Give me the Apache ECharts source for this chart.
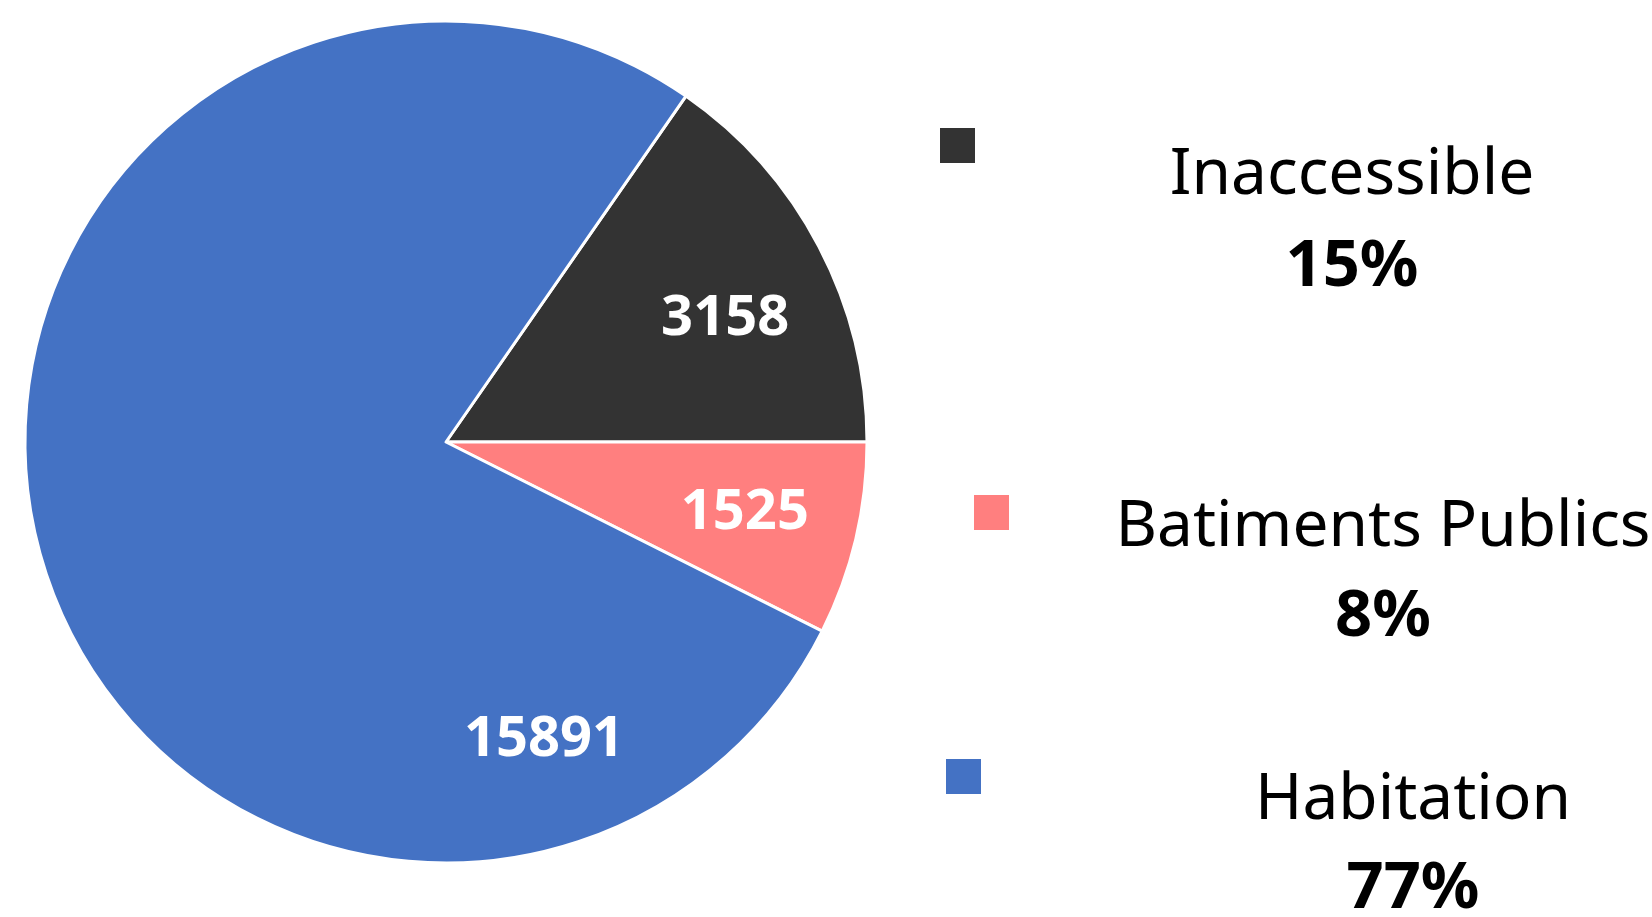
<!DOCTYPE html>
<html>
<head>
<meta charset="utf-8">
<script src="https://cdn.jsdelivr.net/npm/echarts@6/dist/echarts.min.js"></script>
<style>
  html, body { margin: 0; padding: 0; background: #ffffff; }
  #chart { width: 1652px; height: 917px; }
</style>
</head>
<body>
<div id="chart"></div>
<script>
// ---- data ----
const categories = ['Inaccessible', 'Batiments Publics', 'Habitation'];
const values = [3158, 1525, 15891];
const percentLabels = ['15%', '8%', '77%'];
const colors = ['#333333', '#FF7F7F', '#4472C4'];

// ---- layout (positions / styles only) ----
const CX = 446, CY = 442, R = 421;
// label placement (polar, relative to pie centre)
const labelPolar = [
  { angle: 24.2, frac: 0.727 },
  { angle: -12.8, frac: 0.728 },
  { angle: -71.6, frac: 0.738 }
];
const LABEL_DY = 3;
// legend blocks
const legendBlocks = [
  { iconLeft: 938, iconTop: 126, textX: 1352, nameBase: 195, pctBase: 287 },
  { iconLeft: 972, iconTop: 493, textX: 1383, nameBase: 547, pctBase: 637 },
  { iconLeft: 944, iconTop: 757, textX: 1413, nameBase: 820, pctBase: 909 }
];
const FONT = '"Noto Sans", "Open Sans", sans-serif';
const NAME_SIZE = 64, PCT_SIZE = 65;
const MID = 0.30; // middle-to-baseline offset (em)

const total = values.reduce((a, b) => a + b, 0);
const startAngle = 360 * values[0] / total;

const chart = echarts.init(document.getElementById('chart'), null, { renderer: 'canvas' });

const legends = categories.map((name, i) => ({
  data: [name],
  left: legendBlocks[i].iconLeft,
  top: legendBlocks[i].iconTop,
  padding: 0,
  itemWidth: 37,
  itemHeight: 37,
  icon: 'rect',
  selectedMode: false,
  formatter: () => '',
  textStyle: { fontSize: 1 }
}));

const graphics = [];
categories.forEach((name, i) => {
  const b = legendBlocks[i];
  graphics.push({
    type: 'text',
    x: b.textX,
    y: b.nameBase - MID * NAME_SIZE,
    style: {
      text: name,
      font: 'normal ' + NAME_SIZE + 'px ' + FONT,
      fill: '#000000',
      textAlign: 'center',
      textVerticalAlign: 'middle'
    }
  });
  graphics.push({
    type: 'text',
    x: b.textX,
    y: b.pctBase - MID * PCT_SIZE,
    style: {
      text: percentLabels[i],
      font: 'bold ' + PCT_SIZE + 'px ' + FONT,
      fill: '#000000',
      textAlign: 'center',
      textVerticalAlign: 'middle'
    }
  });
});

const option = {
  backgroundColor: '#ffffff',
  animation: false,
  color: colors,
  legend: legends,
  graphic: graphics,
  series: [{
    type: 'pie',
    center: [CX, CY],
    radius: R,
    startAngle: startAngle,
    clockwise: true,
    avoidLabelOverlap: false,
    itemStyle: { borderColor: '#ffffff', borderWidth: 3 },
    label: {
      show: true,
      position: 'inside',
      formatter: '{c}',
      color: '#ffffff',
      fontFamily: FONT,
      fontWeight: 'bold',
      fontSize: 56
    },
    labelLine: { show: false },
    emphasis: { disabled: true },
    labelLayout: function (params) {
      const p = labelPolar[params.dataIndex];
      const a = p.angle * Math.PI / 180;
      return {
        x: CX + p.frac * R * Math.cos(a),
        y: CY - p.frac * R * Math.sin(a) + LABEL_DY,
        align: 'center',
        verticalAlign: 'middle'
      };
    },
    data: categories.map((name, i) => ({ name: name, value: values[i] }))
  }]
};

chart.setOption(option);
</script>
</body>
</html>
